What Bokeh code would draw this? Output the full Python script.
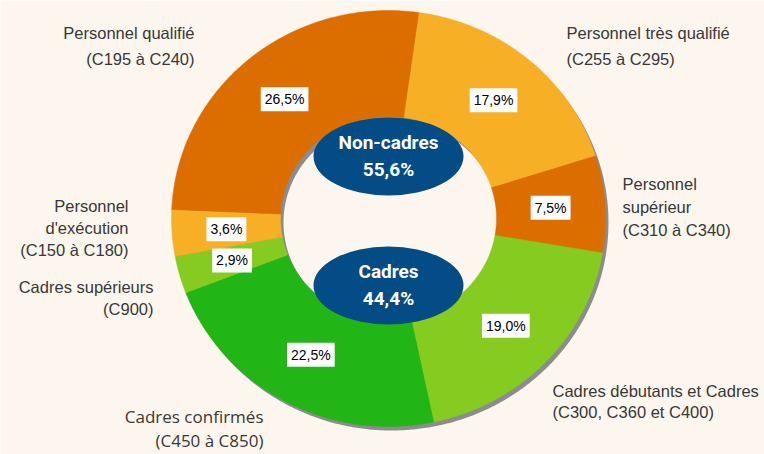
import numpy as np
from bokeh.plotting import figure
from bokeh.models import Range1d
from bokeh.core.properties import value
from bokeh.embed import file_html
from bokeh.resources import INLINE

# ---- data ----
categories = ["Personnel très qualifié", "Personnel supérieur",
              "Cadres débutants et Cadres", "Cadres confirmés",
              "Cadres supérieurs", "Personnel d'exécution", "Personnel qualifié"]
shares = [17.9, 7.5, 19.0, 22.5, 2.9, 3.6, 26.5]
group_names = ["Non-cadres", "Cadres"]
group_shares = [55.6, 44.4]

# ---- style / layout ----
BG = "#FDF6EE"
DARK_OR = "#DC6E00"
LIGHT_OR = "#F7B026"
LIGHT_GR = "#86CB20"
GREEN = "#21B516"
colors = [LIGHT_OR, DARK_OR, LIGHT_GR, GREEN, LIGHT_GR, LIGHT_OR, DARK_OR]
NAVY = "#034C86"
TXT = "#383838"

cx, cy = 388.0, 218.0
rx_out, ry_out = 217.0, 208.0
rx_in, ry_in = 108.0, 102.0
start_deg = 8.0

W, H = 764, 454
p = figure(width=W, height=H, x_range=Range1d(0, W), y_range=Range1d(H, 0),
           output_backend="svg", toolbar_location=None,
           x_axis_location=None, y_axis_location=None, min_border=0)
p.grid.visible = False
p.outline_line_color = None
p.background_fill_color = BG
p.border_fill_color = BG


def ring_patch(a0, a1, ox=0.0, oy=0.0):
    t = np.radians(np.linspace(a0, a1, max(8, int(abs(a1 - a0) * 2))))
    xo = cx + ox + rx_out * np.sin(t)
    yo = cy + oy - ry_out * np.cos(t)
    xi = cx + ox + rx_in * np.sin(t[::-1])
    yi = cy + oy - ry_in * np.cos(t[::-1])
    return list(np.concatenate([xo, xi])), list(np.concatenate([yo, yi]))


total = sum(shares)
angles = np.cumsum([0] + [s / total * 360.0 for s in shares]) + start_deg

# drop shadow
sx, sy = ring_patch(start_deg, start_deg + 360, ox=3, oy=4)
p.patch(sx, sy, fill_color="#8C8C8C", line_color=None)

xs, ys = [], []
for i in range(len(shares)):
    a, b = ring_patch(angles[i], angles[i + 1])
    xs.append(a)
    ys.append(b)
p.patches(xs, ys, fill_color=colors, line_color=colors, line_width=0.5)

# percentage labels
mids = np.radians((angles[:-1] + angles[1:]) / 2)
rmx, rmy = (rx_out + rx_in) / 2, (ry_out + ry_in) / 2
lx = cx + rmx * np.sin(mids)
ly = cy - rmy * np.cos(mids)
pct = [f"{s:.1f}".replace(".", ",") + "%" for s in shares]
p.text(lx, ly, text=pct, text_align="center", text_baseline="middle",
       text_font=value("Liberation Sans"), text_font_size="14px", text_color="black",
       background_fill_color="white", padding=4)

# centre ellipses
ey = [156, 285]
p.ellipse([cx, cx], ey, width=150, height=78, fill_color=NAVY, line_color=None)
for yy, name, val in zip(ey, group_names, group_shares):
    p.text([cx], [yy - 14], text=[name], text_align="center", text_baseline="middle",
           text_font=value("Roboto"), text_font_style="bold",
           text_font_size="19px", text_color="white")
    p.text([cx], [yy + 13], text=[f"{val:.1f}".replace(".", ",") + "%"],
           text_align="center", text_baseline="middle",
           text_font=value("Roboto"), text_font_style="bold",
           text_font_size="19px", text_color="white")

# outer labels: (lines, x, first y, line step, align)
outer = [
    (["Personnel qualifié", "(C195 à C240)"], 194, 32, 26, "right"),
    (["Personnel très qualifié", "(C255 à C295)"], 566, 32, 26, "left"),
    (["Personnel", "supérieur", "(C310 à C340)"], 622, 183, 23, "left"),
    (["Personnel", "d'exécution", "(C150 à C180)"], 128, 205, 22, "right"),
    (["Cadres supérieurs", "(C900)"], 153, 286, 22, "right"),
    (["Cadres débutants et Cadres", "(C300, C360 et C400)"], 552, 390, 21, "left"),
]
for lines, x, y0, step, align in outer:
    for k, line in enumerate(lines):
        p.text([x], [y0 + k * step], text=[line], text_align=align, text_baseline="middle",
               text_font=value("Liberation Sans"), text_font_size="16.5px", text_color=TXT)

for k, line in enumerate(["Cadres confirmés", "(C450 à C850)"]):
    p.text([263], [416 + k * 24], text=[line], text_align="right", text_baseline="middle",
           text_font=value("Open Sans"), text_font_size="17px", text_color=TXT)

html = file_html(p, INLINE)
open("out.html", "w").write(html)
